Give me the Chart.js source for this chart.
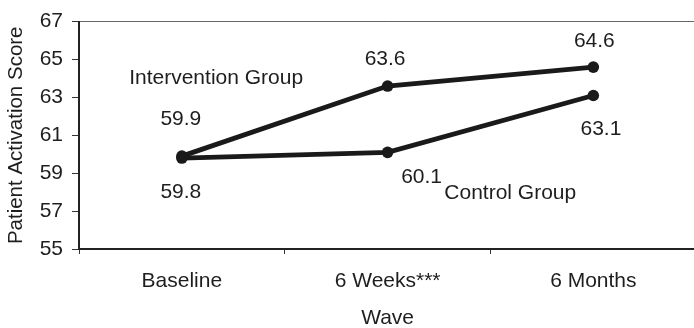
<!DOCTYPE html>
<html>
<head>
<meta charset="utf-8">
<script src="https://cdn.jsdelivr.net/npm/chart.js@4/dist/chart.umd.min.js"></script>
<style>
  html, body { margin: 0; padding: 0; overflow: hidden; background: #fff; }
  #wrap { width: 702px; height: 328px; }
</style>
</head>
<body>
<div id="wrap"><canvas id="c" width="702" height="328"></canvas></div>
<script>
// ---- data ----
const categories = ['Baseline', '6 Weeks***', '6 Months'];
const interventionValues = [59.9, 63.6, 64.6];
const controlValues = [59.8, 60.1, 63.1];
const seriesNames = ['Intervention Group', 'Control Group'];
const yTicks = [55, 57, 59, 61, 63, 65, 67];
const yAxisTitle = 'Patient Activation Score';
const xAxisTitle = 'Wave';

// ---- styling / label placement (pixels relative to each point) ----
const FONT = "'Liberation Sans', Arial, Helvetica, sans-serif";
const TEXT = '#1e1e1e';
const LINE = '#1a1a1a';
// value label offsets: [dx (center), dy (baseline)]
const valueLabelOffsets = [
  [[-1, -31], [-2.5, -21.3], [1, -20.3]],
  [[-1, 40], [34, 31], [7.6, 39]]
];
// series name offsets from a reference point: [datasetIndex, pointIndex, dx (left), dy (baseline)]
const seriesNameAnchors = [
  [0, 0, -52.7, -72.3],
  [1, 1, 56.7, 46.4]
];

const labelPlugin = {
  id: 'labels',
  afterDatasetsDraw(chart) {
    const ctx = chart.ctx;
    ctx.save();
    ctx.font = '21px ' + FONT;
    ctx.fillStyle = TEXT;
    ctx.textBaseline = 'alphabetic';
    chart.data.datasets.forEach((ds, di) => {
      const meta = chart.getDatasetMeta(di);
      meta.data.forEach((pt, i) => {
        const off = valueLabelOffsets[di][i];
        ctx.textAlign = 'center';
        ctx.fillText(ds.data[i].toFixed(1), pt.x + off[0], pt.y + off[1]);
      });
    });
    seriesNameAnchors.forEach((a, k) => {
      const pt = chart.getDatasetMeta(a[0]).data[a[1]];
      ctx.textAlign = 'left';
      ctx.fillText(seriesNames[k], pt.x + a[2], pt.y + a[3]);
    });
    ctx.restore();
  }
};

const mkDataset = (name, values) => ({
  label: name,
  data: values,
  borderColor: LINE,
  backgroundColor: LINE,
  borderWidth: 4.8,
  pointRadius: 5.8,
  pointBorderWidth: 0,
  pointBackgroundColor: LINE,
  tension: 0,
  clip: false
});

new Chart(document.getElementById('c'), {
  type: 'line',
  data: {
    labels: categories,
    datasets: [
      mkDataset(seriesNames[0], interventionValues),
      mkDataset(seriesNames[1], controlValues)
    ]
  },
  options: {
    responsive: false,
    devicePixelRatio: 1,
    animation: false,
    layout: { padding: { top: 15, right: 0, bottom: 0, left: 0 } },
    plugins: { legend: { display: false }, tooltip: { enabled: false } },
    scales: {
      x: {
        type: 'category',
        offset: true,
        afterFit: s => { s.height = 79; },
        grid: {
          display: true,
          offset: true,
          drawOnChartArea: false,
          tickLength: 5,
          color: '#333',
          lineWidth: 1
        },
        border: { display: true, color: '#222', width: 2 },
        ticks: {
          color: TEXT,
          padding: 15,
          font: { family: FONT, size: 21, lineHeight: 1.2 },
          maxRotation: 0,
          autoSkip: false
        },
        title: {
          display: true,
          text: xAxisTitle,
          color: TEXT,
          font: { family: FONT, size: 21, lineHeight: 0.9 },
          padding: { top: 0, bottom: 0 }
        }
      },
      y: {
        type: 'linear',
        min: yTicks[0],
        max: yTicks[yTicks.length - 1],
        afterFit: s => { s.width = 79; },
        afterBuildTicks: s => { s.ticks = yTicks.map(v => ({ value: v })); },
        grid: {
          display: true,
          drawOnChartArea: true,
          tickLength: 7,
          color: c => (c.tick && c.tick.value === yTicks[yTicks.length - 1]) ? '#666' : 'rgba(0,0,0,0)',
          tickColor: '#333',
          lineWidth: 1
        },
        border: { display: true, color: '#222', width: 2 },
        ticks: {
          color: TEXT,
          padding: 9,
          font: { family: FONT, size: 21 }
        },
        title: {
          display: true,
          text: yAxisTitle,
          color: TEXT,
          font: { family: FONT, size: 20.5, lineHeight: 1.2 },
          padding: { top: 4, bottom: 0 }
        }
      }
    }
  },
  plugins: [labelPlugin]
});
</script>
</body>
</html>
